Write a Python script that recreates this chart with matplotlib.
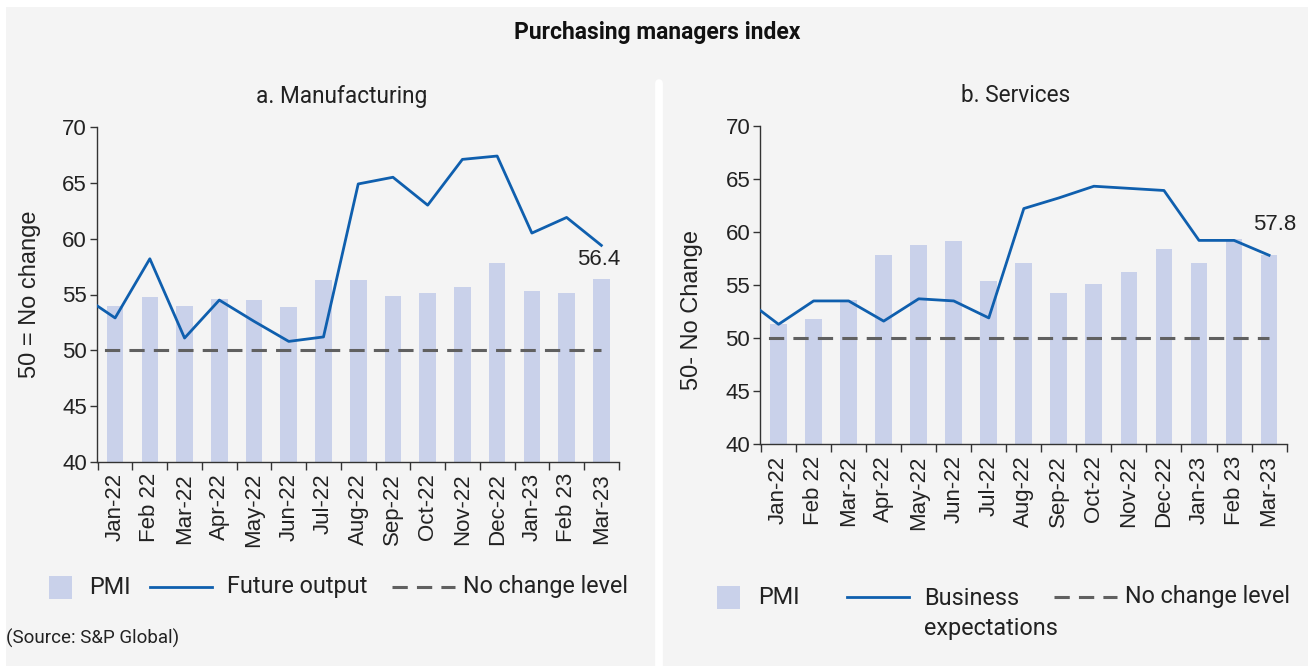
import numpy as np
import matplotlib
matplotlib.use('Agg')
import matplotlib.pyplot as plt
from matplotlib.patches import Rectangle
from matplotlib.lines import Line2D

months = ['Jan-22', 'Feb 22', 'Mar-22', 'Apr-22', 'May-22', 'Jun-22', 'Jul-22', 'Aug-22',
          'Sep-22', 'Oct-22', 'Nov-22', 'Dec-22', 'Jan-23', 'Feb 23', 'Mar-23']

# manufacturing
mfg_pmi = [54.0, 54.8, 54.0, 54.6, 54.5, 53.9, 56.3, 56.3, 54.9, 55.1, 55.7, 57.8, 55.3, 55.1, 56.4]
# future output starts one month earlier (Dec-21)
mfg_future = [55.0, 52.9, 58.2, 51.1, 54.5, 52.6, 50.8, 51.2, 64.9, 65.5, 63.0, 67.1, 67.4, 60.5, 61.9, 59.4]

# services
svc_pmi = [51.3, 51.8, 53.6, 57.8, 58.8, 59.1, 55.4, 57.1, 54.2, 55.1, 56.2, 58.4, 57.1, 59.3, 57.8]
# business expectations, also from Dec-21
svc_expect = [53.8, 51.3, 53.5, 53.5, 51.6, 53.7, 53.5, 51.9, 62.2, 63.2, 64.3, 64.1, 63.9, 59.2, 59.2, 57.8]

no_change = 50

W, H = 1308, 666
BAR = '#c9d1ea'
BLUE = '#0f5fae'
DASH = '#606060'
AXC = '#333333'
NUM_FONT = 'Liberation Sans'
TXT_FONT = 'Roboto'


def fx(px):
    return px / W


def fy(py):
    return 1 - py / H


fig = plt.figure(figsize=(W / 100, H / 100), dpi=100)
fig.patch.set_facecolor('white')

# grey card behind everything, with a white gutter between the panels
fig.patches.append(Rectangle((fx(6), 0), fx(W - 6), fy(7), transform=fig.transFigure,
                             facecolor='#f4f4f4', edgecolor='none', zorder=-5))
fig.add_artist(Line2D([fx(658.5), fx(658.5)], [0, fy(83)], color='white', lw=5.5,
                      solid_capstyle='round', zorder=-4))


def draw_panel(ax, pmi, line_vals, xlim, label_offset):
    x = np.arange(len(pmi))
    xl = np.arange(-1, len(pmi))
    ax.set_facecolor('none')
    ax.bar(x, pmi, width=0.48, color=BAR, zorder=1)
    ax.plot(xl, line_vals, color=BLUE, lw=2.0, zorder=3)
    ax.hlines(no_change, xl[0], xl[-1], colors=DASH, lw=2.2, linestyles=(0, (5, 3)), zorder=2)
    ax.annotate(f'{pmi[-1]:.1f}', (x[-1], pmi[-1]), xytext=label_offset, textcoords='offset points',
                ha='center', va='center', fontsize=16, family=NUM_FONT, color='#222222')
    ax.set_xlim(*xlim)
    ax.set_ylim(40, 70)
    ax.set_yticks(range(40, 71, 5))
    ax.set_xticks(x)
    ax.set_xticklabels(months, rotation=90, fontsize=16, family=NUM_FONT, color='#222222')
    ax.set_xticks(np.arange(-0.5, len(pmi)), minor=True)
    ax.tick_params(axis='x', which='major', length=0, pad=8)
    ax.tick_params(axis='x', which='minor', length=6, width=1, color=AXC)
    ax.tick_params(axis='y', length=5, width=1, color=AXC, pad=2, labelsize=16)
    for t in ax.get_yticklabels():
        t.set_family(NUM_FONT)
        t.set_color('#222222')
    for s in ['top', 'right']:
        ax.spines[s].set_visible(False)
    for s in ['left', 'bottom']:
        ax.spines[s].set_color(AXC)
        ax.spines[s].set_linewidth(1)


ax1 = fig.add_axes([fx(96.7), fy(462), fx(522), (462 - 127) / H])
draw_panel(ax1, mfg_pmi, mfg_future, (-0.53, 14.34), (-2, 14))

ax2 = fig.add_axes([fx(760), fy(444.3), fx(526.6), (444.3 - 125.7) / H])
draw_panel(ax2, svc_pmi, svc_expect, (-0.53, 14.43), (4, 22))

# titles and axis names
fig.text(fx(657), fy(33), 'Purchasing managers index', ha='center', va='center',
         fontsize=16.5, fontweight='bold', family=TXT_FONT, color='#111111')
fig.text(fx(342), fy(96), 'a. Manufacturing', ha='center', va='center',
         fontsize=16.3, family=TXT_FONT, color='#222222')
fig.text(fx(1016), fy(96), 'b. Services', ha='center', va='center',
         fontsize=16.3, family=TXT_FONT, color='#222222')
fig.text(fx(30), fy(294), '50 = No change', rotation=90, ha='center', va='center',
         fontsize=17, family=NUM_FONT, color='#222222')
fig.text(fx(692), fy(310), '50- No Change', rotation=90, ha='center', va='center',
         fontsize=17, family=NUM_FONT, color='#222222')
fig.text(fx(6), fy(638), '(Source: S&P Global)', ha='left', va='center',
         fontsize=13.5, family=TXT_FONT, color='#222222')


# legend keys
def key_box(x0, x1, y):
    fig.patches.append(Rectangle((fx(x0), fy(y + 11.5)), fx(x1 - x0), 23 / H,
                                 transform=fig.transFigure, facecolor=BAR, edgecolor='none'))


def key_line(x0, x1, y, **style):
    fig.add_artist(Line2D([fx(x0), fx(x1)], [fy(y), fy(y)], **style))


def key_text(x, y, s):
    fig.text(fx(x), fy(y), s, ha='left', va='center', fontsize=16.8, family=TXT_FONT,
             color='#222222', linespacing=1.4)


key_box(49, 72, 587)
key_text(89, 587, 'PMI')
key_line(150, 212, 587, color=BLUE, lw=2.0)
key_text(227, 587, 'Future output')
key_line(392, 455, 587, color=DASH, lw=2.2, linestyle=(0, (5, 3)))
key_text(463, 587, 'No change level')

key_box(717, 740, 597)
key_text(758, 597, 'PMI')
key_line(847, 909, 597, color=BLUE, lw=2.0)
key_text(924, 613.5, 'Business\nexpectations')
key_line(1054, 1117, 597, color=DASH, lw=2.2, linestyle=(0, (5, 3)))
key_text(1125, 597, 'No change level')

fig.savefig('out.png', dpi=100)
